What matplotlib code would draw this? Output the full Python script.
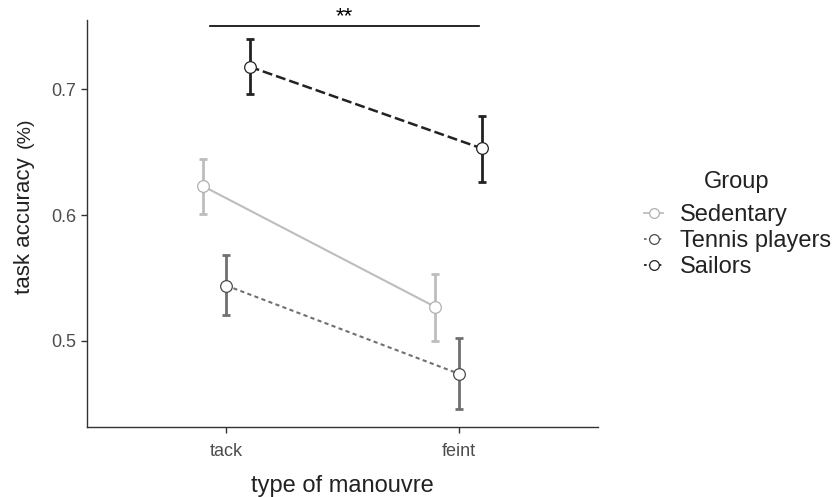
import numpy as np
import matplotlib.pyplot as plt
from matplotlib.lines import Line2D

plt.rcParams['font.family'] = ['Liberation Sans', 'DejaVu Sans']

manoeuvres = ['tack', 'feint']
groups = ['Sedentary', 'Tennis players', 'Sailors']

# mean accuracy and error bar ends, per group: [tack, feint]
means = {
    'Sedentary': [0.623, 0.527],
    'Tennis players': [0.544, 0.474],
    'Sailors': [0.718, 0.653],
}
lower = {
    'Sedentary': [0.601, 0.500],
    'Tennis players': [0.521, 0.446],
    'Sailors': [0.696, 0.626],
}
upper = {
    'Sedentary': [0.645, 0.553],
    'Tennis players': [0.568, 0.502],
    'Sailors': [0.740, 0.679],
}
sig_label = '**'

colors = {'Sedentary': '#bdbdbd', 'Tennis players': '#707070', 'Sailors': '#222222'}
edge = {'Sedentary': '#b0b0b0', 'Tennis players': '#4a4a4a', 'Sailors': '#222222'}
dashes = {'Sedentary': None, 'Tennis players': (2.0, 1.6), 'Sailors': (4.0, 1.6)}
lws = {'Sedentary': 1.5, 'Tennis players': 1.5, 'Sailors': 1.8}
offsets = {'Sedentary': -0.1, 'Tennis players': 0.0, 'Sailors': 0.1}

fig = plt.figure(figsize=(8.34, 4.97), dpi=100)
ax = fig.add_axes([0.1043, 0.1408, 0.6127, 0.819])

x = np.arange(1, len(manoeuvres) + 1)
handles = []
for g in groups:
    xs = x + offsets[g]
    m = np.array(means[g])
    yerr = [m - np.array(lower[g]), np.array(upper[g]) - m]
    ax.errorbar(xs, m, yerr=yerr, fmt='none', ecolor=colors[g], elinewidth=2.0,
                capsize=2.8, capthick=2.0, zorder=2)
    line, = ax.plot(xs, m, color=colors[g], lw=lws[g], zorder=3)
    if dashes[g] is not None:
        line.set_dashes(dashes[g])
    ax.plot(xs, m, 'o', ms=8.4, mfc='white', mec=edge[g], mew=0.9, zorder=4)
    h = Line2D([0], [0], color=colors[g], lw=1.3, marker='o', ms=7, mfc='white',
               mec=edge[g], mew=0.9)
    if dashes[g] is not None:
        h.set_dashes((1.5, 1.2))
    handles.append(h)

# significance bracket
ax.plot([0.93, 2.086], [0.750, 0.750], color='black', lw=1.2, clip_on=False)
ax.text(1.51, 0.7493, sig_label, ha='center', va='bottom', fontsize=16, clip_on=False)

ax.set_xlim(0.4, 2.6)
ax.set_ylim(0.4316, 0.7551)
ax.set_xticks(x)
ax.set_xticklabels(manoeuvres)
ax.set_yticks([0.5, 0.6, 0.7])
ax.set_yticklabels(['0.5', '0.6', '0.7'])
ax.tick_params(labelsize=13, colors='#333333', labelcolor='#4d4d4d', length=4, width=1)
ax.tick_params(axis='x', pad=7.5)
for s in ['top', 'right']:
    ax.spines[s].set_visible(False)
for s in ['left', 'bottom']:
    ax.spines[s].set_color('#333333')
    ax.spines[s].set_linewidth(1.0)

ax.set_xlabel('type of manouvre', fontsize=17, color='#222222', labelpad=11)
# y title: main words plus a smaller unit above them
ax.text(-0.123, 0.496, 'task accuracy', transform=ax.transAxes, rotation=90,
        ha='center', va='center', fontsize=16, color='#222222')
ax.text(-0.121, 0.722, '(%)', transform=ax.transAxes, rotation=90, ha='center',
        va='center', fontsize=14, color='#222222')

fig.text(737 / 834, 1 - 182 / 497, 'Group', ha='center', va='center', fontsize=17,
         color='#222222')
leg = fig.legend(handles, groups, loc='center left',
                 bbox_to_anchor=(0.761, 1 - 241 / 497), frameon=False, fontsize=17,
                 handlelength=0.8, handletextpad=0.7,
                 labelspacing=0.17, borderaxespad=0)
for t in leg.get_texts():
    t.set_color('#222222')

fig.savefig('out.png', dpi=100)
